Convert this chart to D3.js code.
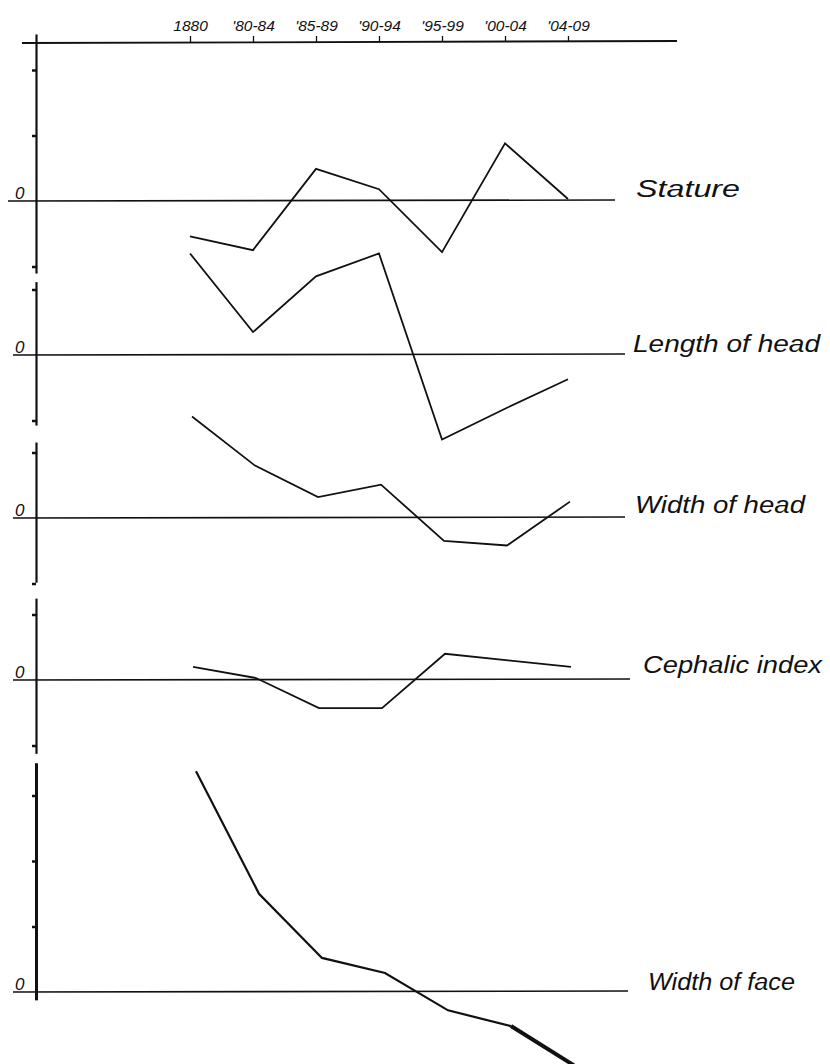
<!DOCTYPE html>
<html>
<head>
<meta charset="utf-8">
<script src="https://cdn.jsdelivr.net/npm/d3@7"></script>
<style>
  body { margin: 0; background: #fff; }
  text { font-family: "Liberation Sans", "DejaVu Sans", sans-serif; font-style: italic; fill: #111; }
</style>
</head>
<body>
<div id="chart"></div>
<script>
// Periods along the top axis
const periods = ['1880', "'80-84", "'85-89", "'90-94", "'95-99", "'00-04", "'04-09"];

// Deviation from the mean, one series per trait (units of the side ticks)
const seriesNames = ['Stature', 'Length of head', 'Width of head', 'Cephalic index', 'Width of face'];
const stature = [-0.54, -0.75, 0.49, 0.18, -0.78, 0.88, 0.03];
const headLength = [1.55, 0.35, 1.2, 1.55, -1.29, -0.82, -0.37];
const headWidth = [1.55, 0.8, 0.32, 0.51, -0.35, -0.42, 0.25];
const cephalicIndex = [0.2, 0.03, -0.43, -0.43, 0.4, 0.3, 0.2];
const faceWidth = [3.37, 1.5, 0.52, 0.29, -0.28, -0.52, -1.12];
const seriesValues = [stature, headLength, headWidth, cephalicIndex, faceWidth];

// Side axis extent for each trait and the ticks on it
const axisExtents = [[-1.1, 2.55], [-1.07, 1.12], [-0.98, 1.16], [-1.12, 1.25], [-0.12, 3.5]];
const axisTicks = [[-1, 1, 2], [-1, 1], [-1, 1], [-1, 1], [1, 2, 3]];

// Layout
const WIDTH = 830, HEIGHT = 1064;
const UNIT = 65.5;          // px per tick step
const AXIS_X = 36;
const TOP_Y = 42;
const PANELS = [
  {zero: 201, dx: 0, lineEnd: 615, labelX: 636, labelY: 197, labelW: 104},
  {zero: 355, dx: 0, lineEnd: 625, labelX: 633, labelY: 352, labelW: 187},
  {zero: 518, dx: 2, lineEnd: 625, labelX: 635, labelY: 513, labelW: 170},
  {zero: 680, dx: 3, lineEnd: 630, labelX: 643, labelY: 673, labelW: 179},
  {zero: 992, dx: 6, lineEnd: 628, labelX: 648, labelY: 990, labelW: 147}
];

const svg = d3.select('#chart').append('svg')
  .attr('width', WIDTH)
  .attr('height', HEIGHT);

// x scale for the periods
const xScale = d3.scalePoint()
  .domain(periods)
  .range([190, 568]);

// Top axis
svg.append('line')
  .attr('x1', 22).attr('x2', 677)
  .attr('y1', TOP_Y + 1).attr('y2', TOP_Y - 1)
  .attr('stroke', '#111').attr('stroke-width', 1.8);

const topAxis = svg.append('g')
  .attr('transform', `translate(0, ${TOP_Y})`)
  .call(d3.axisTop(xScale).tickSize(6).tickSizeOuter(0).tickPadding(5));
topAxis.select('.domain').remove();
topAxis.selectAll('.tick line').attr('stroke', '#111').attr('stroke-width', 1.3);
topAxis.selectAll('.tick text')
  .style('font-size', '15.5px')
  .style('font-family', '"Liberation Sans", "DejaVu Sans", sans-serif')
  .style('font-style', 'italic')
  .attr('fill', '#111');

// One panel per trait
seriesValues.forEach((values, i) => {
  const p = PANELS[i];
  const [lo, hi] = axisExtents[i];
  const last = i === seriesValues.length - 1;

  const yScale = d3.scaleLinear()
    .domain([lo, hi])
    .range([p.zero - lo * UNIT, p.zero - hi * UNIT]);

  // Side axis segment
  const side = svg.append('g')
    .attr('transform', `translate(${AXIS_X}, 0)`)
    .call(d3.axisLeft(yScale).tickValues(axisTicks[i]).tickSize(4).tickSizeOuter(0).tickFormat(''));
  side.select('.domain').attr('stroke', '#111').attr('stroke-width', last ? 3 : 2.2);
  side.selectAll('.tick line').attr('stroke', '#111').attr('stroke-width', 2.5);

  // Zero line and its label
  const zy = yScale(0);
  svg.append('line')
    .attr('x1', 8 + (i > 0 ? 5 : 0)).attr('x2', p.lineEnd)
    .attr('y1', zy).attr('y2', zy - 1)
    .attr('stroke', '#111').attr('stroke-width', 1.6);

  svg.append('text')
    .attr('x', 15).attr('y', zy - 2)
    .style('font-size', '17px')
    .text('0');

  svg.append('text')
    .attr('x', p.labelX).attr('y', p.labelY)
    .attr('textLength', p.labelW)
    .attr('lengthAdjust', 'spacingAndGlyphs')
    .style('font-size', '23px')
    .text(seriesNames[i]);

  // Trait curve
  const line = d3.line()
    .x((d, j) => xScale(periods[j]) + p.dx)
    .y(d => yScale(d));

  const body = last ? values.slice(0, values.length - 1) : values;
  svg.append('path')
    .datum(body)
    .attr('d', line)
    .attr('fill', 'none')
    .attr('stroke', '#111')
    .attr('stroke-width', last ? 2.2 : 1.8)
    .attr('stroke-linejoin', 'miter');

  if (last) {
    // heavier final stroke on the face curve
    const n = values.length;
    svg.append('line')
      .attr('x1', xScale(periods[n - 2]) + p.dx).attr('y1', yScale(values[n - 2]))
      .attr('x2', xScale(periods[n - 1]) + p.dx).attr('y2', yScale(values[n - 1]))
      .attr('stroke', '#111').attr('stroke-width', 4);
  }
});
</script>
</body>
</html>
